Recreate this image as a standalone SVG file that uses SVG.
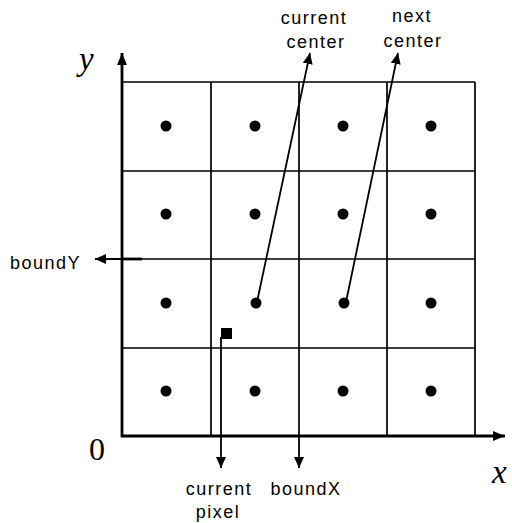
<svg xmlns="http://www.w3.org/2000/svg" width="512" height="523" viewBox="0 0 512 523">
<style>
.grid{stroke:#000;stroke-width:1.7;fill:none}
.axis{stroke:#000;stroke-width:2.8;fill:none}
.con{stroke:#000;stroke-width:1.8;fill:none}
.dot{fill:#000}
.lbl{font-family:"Liberation Sans",Arial,sans-serif;font-size:18px;letter-spacing:1.5px;fill:#000}
.math{font-family:"Liberation Serif","Times New Roman",serif;fill:#000}
</style>
<defs>
<marker id="ah" viewBox="0 0 11 10" refX="11" refY="5" markerWidth="11" markerHeight="10" markerUnits="userSpaceOnUse" orient="auto">
<path d="M0,0 L11,5 L0,10 Z" fill="#000"/>
</marker>
<marker id="ahb" viewBox="0 0 12 10" refX="12" refY="5" markerWidth="12" markerHeight="11" markerUnits="userSpaceOnUse" orient="auto">
<path d="M0,0 L12,5 L0,10 Z" fill="#000"/>
</marker>
</defs>
<g id="grid">
<path class="grid" d="M122,82H475M122,171H475M122,259H475M122,348H475M211,82V436M299,82V436M387,82V436M475,82V436"/>
</g>
<g id="axes">
<line class="axis" x1="122" y1="437" x2="122" y2="53" marker-end="url(#ahb)"/>
<line class="axis" x1="121" y1="436" x2="505" y2="436" marker-end="url(#ahb)"/>
<text class="math" x="79" y="70" font-size="33" font-style="italic">y</text>
<text class="math" x="89" y="460" font-size="32">0</text>
<text class="math" x="492" y="483" font-size="33" font-style="italic">x</text>
</g>
<g id="dots">
<circle class="dot" cx="166" cy="126" r="5.5"/><circle class="dot" cx="255" cy="126" r="5.5"/><circle class="dot" cx="343" cy="126" r="5.5"/><circle class="dot" cx="431" cy="126" r="5.5"/>
<circle class="dot" cx="166" cy="214" r="5.5"/><circle class="dot" cx="255" cy="214" r="5.5"/><circle class="dot" cx="343" cy="214" r="5.5"/><circle class="dot" cx="431" cy="214" r="5.5"/>
<circle class="dot" cx="166" cy="303" r="5.5"/><circle class="dot" cx="256" cy="303" r="5.5"/><circle class="dot" cx="344" cy="303" r="5.5"/><circle class="dot" cx="431" cy="303" r="5.5"/>
<circle class="dot" cx="166" cy="391" r="5.5"/><circle class="dot" cx="255" cy="391" r="5.5"/><circle class="dot" cx="343" cy="391" r="5.5"/><circle class="dot" cx="431" cy="391" r="5.5"/>
</g>
<g id="current-pixel">
<rect x="221" y="328" width="11" height="11" fill="#000"/>
</g>
<g id="connectors">
<line class="con" x1="257" y1="302" x2="310" y2="53" marker-end="url(#ah)"/>
<line class="con" x1="346" y1="302" x2="398" y2="53" marker-end="url(#ah)"/>
<line class="con" x1="221" y1="337" x2="221" y2="468" marker-end="url(#ah)"/>
<line class="con" x1="299" y1="436" x2="299" y2="468" marker-end="url(#ah)"/>
<line class="con" x1="142" y1="259" x2="95" y2="259" marker-end="url(#ah)"/>
<line class="axis" x1="122" y1="259" x2="142" y2="259"/>
</g>
<g id="labels">
<text class="lbl" x="314" y="24" text-anchor="middle">current</text>
<text class="lbl" x="316" y="48" text-anchor="middle">center</text>
<text class="lbl" x="412" y="22" text-anchor="middle">next</text>
<text class="lbl" x="413" y="47" text-anchor="middle">center</text>
<text class="lbl" x="10" y="269">boundY</text>
<text class="lbl" x="219" y="495" text-anchor="middle">current</text>
<text class="lbl" x="218" y="518" text-anchor="middle">pixel</text>
<text class="lbl" x="306" y="495" text-anchor="middle">boundX</text>
</g>
</svg>
